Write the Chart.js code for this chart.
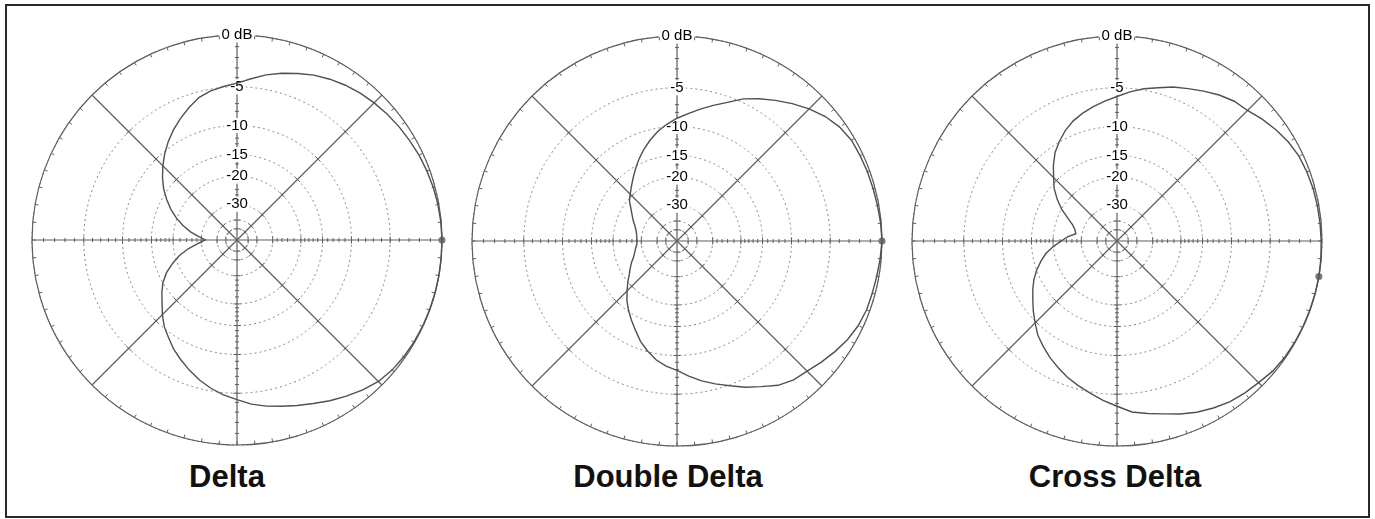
<!DOCTYPE html>
<html lang="en">
<head>
    <meta charset="UTF-8">
    <title>Delta, Double Delta, Cross Delta</title>
    <script src="https://cdn.jsdelivr.net/npm/chart.js"></script>
    <style>
        body {
            margin: 0;
            width: 1375px;
            height: 519px;
            overflow: hidden;
            position: relative;
            background: #fff;
            font-family: "Liberation Sans", Arial, sans-serif;
        }
        .frame {
            position: absolute;
            left: 5px;
            top: 4px;
            width: 1361px;
            height: 510px;
            border: 2px solid #2a2a2a;
        }
        canvas {
            position: absolute;
        }
        .name {
            position: absolute;
            top: 461px;
            width: 300px;
            text-align: center;
            font-weight: bold;
            font-size: 31px;
            line-height: 31px;
            color: #111;
        }
    </style>
</head>
<body>
    <div class="frame"></div>
    <canvas id="plot0" width="425" height="425" style="left:25px;top:28px"></canvas>
    <canvas id="plot1" width="425" height="425" style="left:465px;top:29px"></canvas>
    <canvas id="plot2" width="425" height="425" style="left:905px;top:29px"></canvas>
    <div class="name" style="left:77px">Delta</div>
    <div class="name" style="left:518px">Double Delta</div>
    <div class="name" style="left:965px">Cross Delta</div>
    <script>
        // azimuth in degrees, counter-clockwise from the 0 dB reference on the right
        const azimuth = [
            0, 5, 10, 15, 20, 25, 30, 35, 40, 45, 50, 55, 60, 65, 70, 75, 80, 85,
            90, 95, 100, 105, 110, 115, 120, 125, 130, 135, 140, 145, 150, 155, 160, 165, 170, 175,
            180, 185, 190, 195, 200, 205, 210, 215, 220, 225, 230, 235, 240, 245, 250, 255, 260, 265,
            270, 275, 280, 285, 290, 295, 300, 305, 310, 315, 320, 325, 330, 335, 340, 345, 350, 355
        ];

        // relative response in dB at each azimuth
        const deltaDb = [
            0, -0.03, -0.08, -0.15, -0.25, -0.35, -0.5, -0.62, -0.78, -0.95, -1.15, -1.4, -1.7, -2.05, -2.5, -2.95, -3.45, -4.05,
            -4.6, -4.9, -5.2, -5.65, -6.45, -7.3, -8.2, -9.2, -10.3, -11.5, -12.8, -14.2, -15.9, -17.7, -19.8, -22.3, -25.2, -28.8,
            -32, -28.5, -24.5, -21.2, -18.8, -16.6, -15.0, -13.8, -12.7, -11.4, -10.2, -9.3, -8.3, -7.5, -6.7, -5.95, -5.3, -4.75,
            -4.3, -3.75, -3.35, -3.0, -2.6, -2.2, -1.7, -1.25, -0.8, -0.42, -0.22, -0.12, -0.06, -0.03, -0.01, 0, 0, 0
        ];
        const doubleDeltaDb = [
            0, -0.05, -0.12, -0.17, -0.2, -0.25, -0.3, -0.55, -0.98, -1.6, -2.3, -3.05, -3.8, -4.6, -5.65, -6.5, -7.3, -8.1,
            -8.8, -9.6, -10.5, -11.6, -12.8, -14.1, -15.5, -16.9, -18.2, -19.4, -20.5, -22.2, -23.6, -24.8, -26.1, -27.0, -27.6, -27.9,
            -28, -27.9, -27.2, -26.5, -25.6, -24.2, -22.9, -21.6, -19.9, -18.3, -16.6, -15.2, -13.9, -12.6, -11.2, -10.1, -9.1, -8.4,
            -7.9, -7.1, -6.3, -5.6, -4.9, -4.1, -3.4, -2.6, -2.1, -1.85, -1.45, -1.05, -0.68, -0.42, -0.28, -0.24, -0.18, -0.09
        ];
        const crossDeltaDb = [
            -0.07, -0.1, -0.13, -0.17, -0.25, -0.36, -0.6, -0.95, -1.35, -1.8, -2.0, -2.4, -2.9, -3.4, -3.85, -4.4, -4.85, -5.4,
            -6.0, -6.5, -7.0, -7.5, -8.1, -8.9, -9.9, -11.0, -12.5, -14.2, -15.7, -17.7, -20.0, -22.8, -25.2, -26.6, -27.3, -24.5,
            -22.3, -20.0, -17.9, -16.4, -15.0, -13.8, -12.8, -11.85, -10.8, -9.8, -8.75, -8.0, -7.25, -6.6, -5.95, -5.4, -4.85, -4.25,
            -3.7, -3.05, -2.7, -2.33, -1.85, -1.4, -1.05, -0.74, -0.55, -0.4, -0.18, -0.08, -0.04, -0.02, -0.01, 0, 0, -0.03
        ];

        const ringDb = [0, -5, -10, -15, -20, -30, -40, -50];
        const ringLabels = ['0 dB', '-5', '-10', '-15', '-20', '-30', '', ''];
        const minorDb = [-1, -2, -3, -4, -6, -7, -8, -9, -11, -12, -13, -14, -16, -17, -18, -19, -22, -24, -26, -28];
        const markerAzimuth = [0, 0, 350];
        const series = [deltaDb, doubleDeltaDb, crossDeltaDb];

        const axisGrey = '#5e5e5e';
        const ringGrey = '#858585';
        const curveGrey = '#505050';
        const labelFont = { family: '"Liberation Sans", Arial, sans-serif', size: 15 };

        Chart.defaults.font.family = labelFont.family;

        // ARRL log-periodic grid: every 2 dB the radius shrinks by 0.89
        const toRadius = db => Math.pow(0.89, -db / 2);

        // chart.js radar starts at the top and runs clockwise, the data starts at the right and runs the other way
        const n = azimuth.length;
        const order = azimuth.map((_, i) => (n / 4 - i + n) % n);

        const polarMarks = {
            id: 'polarMarks',
            beforeDatasetsDraw(chart) {
                const s = chart.scales.r;
                const ctx = chart.ctx;
                const R = s.drawingArea;
                ctx.save();
                ctx.strokeStyle = axisGrey;
                ctx.lineWidth = 1.2;

                // solid rim, left open behind the "0 dB" label
                ctx.font = labelFont.size + 'px ' + labelFont.family;
                const gap = Math.asin((ctx.measureText(ringLabels[0]).width / 2 + 3) / R);
                ctx.beginPath();
                ctx.arc(s.xCenter, s.yCenter, R, -Math.PI / 2 + gap, 1.5 * Math.PI - gap);
                ctx.stroke();

                ctx.lineWidth = 1;
                ctx.beginPath();
                for (let i = 1; i < n; i++) {
                    const a = s.getPointPosition(i, R);
                    const b = s.getPointPosition(i, R - 3.5);
                    ctx.moveTo(a.x, a.y);
                    ctx.lineTo(b.x, b.y);
                }

                const labelled = ringDb.filter((db, j) => ringLabels[j]).map(db => s.getDistanceFromCenterForValue(toRadius(db)));
                const tickAt = (i, db, half) => {
                    const d = s.getDistanceFromCenterForValue(toRadius(db));
                    if (i === 0 && labelled.some(l => Math.abs(l - d) < 9)) return;
                    const p = s.getPointPosition(i, d);
                    const ux = -Math.sin(p.angle), uy = Math.cos(p.angle);
                    ctx.moveTo(p.x + ux * half, p.y + uy * half);
                    ctx.lineTo(p.x - ux * half, p.y - uy * half);
                };
                for (let q = 0; q < 8; q++) {
                    const i = q * n / 8;
                    ringDb.slice(1).forEach(db => tickAt(i, db, 3.5));
                    if (q % 2 === 0) minorDb.forEach(db => tickAt(i, db, 2));
                }
                ctx.stroke();
                ctx.restore();
            }
        };

        function makeChart(id, dbValues, markerAz) {
            const ctx = document.getElementById(id).getContext('2d');
            return new Chart(ctx, {
                type: 'radar',
                data: {
                    labels: order.map(k => azimuth[k] + '°'),
                    datasets: [
                        {
                            data: order.map(k => toRadius(dbValues[k])),
                            borderColor: curveGrey,
                            borderWidth: 1.4,
                            pointRadius: 0,
                            fill: false,
                            tension: 0
                        },
                        {
                            data: order.map(k => azimuth[k] === markerAz ? toRadius(0) : null),
                            showLine: false,
                            pointRadius: 3.5,
                            pointBorderWidth: 0,
                            pointBackgroundColor: '#777',
                            borderColor: 'transparent'
                        }
                    ]
                },
                options: {
                    responsive: false,
                    animation: false,
                    events: [],
                    plugins: {
                        legend: { display: false },
                        tooltip: { enabled: false }
                    },
                    scales: {
                        r: {
                            min: 0,
                            max: 1,
                            startAngle: 0,
                            afterBuildTicks: scale => {
                                scale.ticks = [{ value: 0 }].concat(
                                    ringDb.map(db => ({ value: toRadius(db) })).sort((a, b) => a.value - b.value)
                                );
                            },
                            ticks: {
                                font: labelFont,
                                color: '#000',
                                backdropColor: '#fff',
                                backdropPadding: { x: 2, y: 0 },
                                showLabelBackdrop: c => !!(c.tick && c.tick.label),
                                callback: value => {
                                    const j = ringDb.findIndex(db => Math.abs(toRadius(db) - value) < 1e-9);
                                    return j < 0 ? '' : ringLabels[j];
                                }
                            },
                            grid: {
                                circular: true,
                                color: ringGrey,
                                lineWidth: 1,
                                borderDash: [2, 3]
                            },
                            border: {
                                dash: [2, 3]
                            },
                            angleLines: {
                                color: axisGrey,
                                lineWidth: c => (c.index % (n / 8) === 0 ? 1.2 : 0)
                            },
                            pointLabels: { display: false }
                        }
                    }
                },
                plugins: [polarMarks]
            });
        }

        series.forEach((values, p) => makeChart('plot' + p, values, markerAzimuth[p]));
    </script>
</body>
</html>
